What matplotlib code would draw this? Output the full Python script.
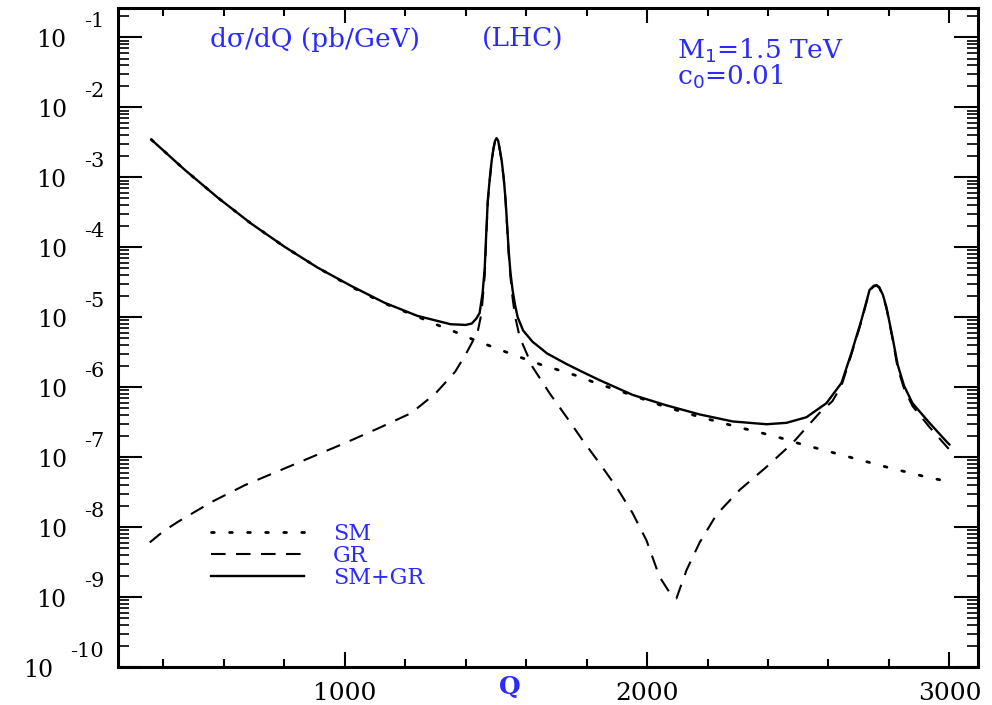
import matplotlib
matplotlib.use("Agg")
import matplotlib.pyplot as plt
import matplotlib.transforms as mtransforms
from matplotlib.ticker import LogLocator, MultipleLocator, NullFormatter
from matplotlib.lines import Line2D

# values: Q in GeV, log10(dsigma/dQ) in pb/GeV
q_sm = [360, 470, 580, 690, 800, 910, 1020, 1130, 1240, 1300, 1365, 1420, 1480, 1535,
        1592, 1650, 1711, 1770, 1830, 1900, 1960, 2060, 2170, 2300, 2365, 2430, 2490,
        2550, 2610, 2670, 2730, 2790, 2855, 2920, 2985, 3000]
log_sm = [-2.46, -2.89, -3.29, -3.66, -3.99, -4.29, -4.56, -4.80, -4.99, -5.10, -5.21,
          -5.31, -5.41, -5.50, -5.59, -5.68, -5.76, -5.84, -5.94, -6.04, -6.13, -6.28,
          -6.42, -6.57, -6.64, -6.71, -6.79, -6.86, -6.93, -7.00, -7.07, -7.14, -7.21,
          -7.28, -7.34, -7.36]

q_gr = [355, 400, 450, 560, 670, 780, 890, 1000, 1110, 1220, 1300, 1365, 1400, 1420,
        1440, 1452, 1463, 1468, 1473, 1480, 1486, 1492, 1497, 1502, 1507, 1512, 1519,
        1526, 1532, 1537, 1542, 1548, 1555, 1563, 1579, 1621, 1678, 1734, 1787, 1843,
        1899, 1952, 1998, 2041, 2075, 2097, 2131, 2174, 2230, 2306, 2395, 2481, 2570,
        2613, 2643, 2676, 2709, 2736, 2750, 2759, 2768, 2780, 2792, 2812, 2829, 2850,
        2878, 2934, 2993, 3000]
log_gr = [-8.22, -8.06, -7.92, -7.64, -7.40, -7.20, -7.00, -6.80, -6.59, -6.37, -6.09,
          -5.78, -5.53, -5.37, -5.20, -4.95, -4.40, -3.85, -3.36, -3.02, -2.77, -2.59,
          -2.49, -2.45, -2.48, -2.59, -2.77, -3.03, -3.35, -3.71, -4.08, -4.42, -4.72,
          -4.98, -5.29, -5.71, -6.09, -6.43, -6.76, -7.09, -7.43, -7.80, -8.19, -8.71,
          -8.94, -9.02, -8.61, -8.22, -7.82, -7.47, -7.14, -6.80, -6.37, -6.20, -5.98,
          -5.53, -5.06, -4.62, -4.56, -4.55, -4.58, -4.69, -4.88, -5.31, -5.73, -6.02,
          -6.27, -6.57, -6.86, -6.89]

q_tot = [360, 470, 580, 690, 800, 910, 1020, 1130, 1240, 1350, 1400, 1420, 1435, 1446,
         1456, 1463, 1468, 1473, 1480, 1486, 1492, 1497, 1502, 1507, 1512, 1519, 1526,
         1532, 1537, 1542, 1548, 1555, 1563, 1572, 1590, 1621, 1670, 1734, 1790, 1843,
         1952, 2064, 2174, 2283, 2395, 2461, 2527, 2593, 2643, 2676, 2709, 2736, 2750,
         2759, 2768, 2780, 2792, 2812, 2829, 2850, 2878, 2934, 2993, 3000]
log_tot = [-2.46, -2.89, -3.29, -3.66, -3.99, -4.29, -4.55, -4.79, -4.98, -5.10, -5.11,
           -5.09, -5.02, -4.94, -4.65, -4.29, -3.80, -3.33, -3.00, -2.76, -2.58, -2.48,
           -2.44, -2.47, -2.58, -2.76, -3.02, -3.33, -3.68, -4.04, -4.36, -4.61, -4.82,
           -5.00, -5.19, -5.35, -5.52, -5.67, -5.79, -5.90, -6.11, -6.26, -6.39, -6.49,
           -6.53, -6.51, -6.43, -6.23, -5.94, -5.51, -5.04, -4.61, -4.55, -4.54, -4.57,
           -4.68, -4.86, -5.29, -5.68, -5.98, -6.23, -6.51, -6.79, -6.82]

decades = [-1, -2, -3, -4, -5, -6, -7, -8, -9, -10]
x_ticks = [1000, 2000, 3000]
labels = ["SM", "GR", "SM+GR"]

serif = "DejaVu Serif"
blue = "#2a2aff"
plt.rcParams["font.family"] = serif

fig = plt.figure(figsize=(9.92, 7.05), dpi=100)
ax = fig.add_axes([0.119, 0.054, 0.867, 0.935])

sm_style = (0, (1, 5.5))
gr_style = (0, (7, 5))

ax.plot(q_sm, [10.0 ** v for v in log_sm], color="black", lw=2.0, ls=sm_style,
        dash_capstyle="round")
ax.plot(q_gr, [10.0 ** v for v in log_gr], color="black", lw=1.5, ls=gr_style)
ax.plot(q_tot, [10.0 ** v for v in log_tot], color="black", lw=1.7)

ax.set_yscale("log")
ax.set_xlim(250, 3095)
ax.set_ylim(1e-10, 10 ** -0.575)

ax.set_xticks(x_ticks)
ax.set_xticklabels([str(v) for v in x_ticks], fontsize=18)
ax.xaxis.set_minor_locator(MultipleLocator(200))
ax.yaxis.set_major_locator(LogLocator(base=10, numticks=20))
ax.yaxis.set_minor_locator(LogLocator(base=10, subs=range(2, 10), numticks=20))
ax.yaxis.set_major_formatter(NullFormatter())
ax.yaxis.set_minor_formatter(NullFormatter())

ax.tick_params(axis="x", which="major", direction="in", length=11, width=1.5,
               top=True, pad=11)
ax.tick_params(axis="x", which="minor", direction="in", length=5.5, width=1.5, top=True)
ax.tick_params(axis="y", which="major", direction="in", length=17, width=1.5, right=True)
ax.tick_params(axis="y", which="minor", direction="in", length=8, width=1.2, right=True)
for sp in ax.spines.values():
    sp.set_linewidth(2.2)

# y labels drawn as "10" with a raised exponent, like the original
trans = mtransforms.blended_transform_factory(ax.transAxes, ax.transData)
for e in decades:
    t_exp = ax.annotate(str(e), xy=(0, 10.0 ** e), xycoords=trans,
                        xytext=(-14, 10), textcoords="offset pixels",
                        ha="right", va="baseline", fontsize=15, annotation_clip=False)
    ax.annotate("10", xy=(0, 0), xycoords=t_exp, xytext=(-17, -16),
                textcoords="offset pixels", ha="right", va="baseline",
                fontsize=17, annotation_clip=False)

ax.text(0.456, -0.031, "Q", transform=ax.transAxes, color=blue, fontsize=18,
        ha="center", va="center", fontweight="bold")

ax.text(0.107, 0.941, "d\u03c3/dQ (pb/GeV)", transform=ax.transAxes, color=blue,
        fontsize=19, ha="left", va="baseline")
ax.text(0.423, 0.941, "(LHC)", transform=ax.transAxes, color=blue,
        fontsize=19, ha="left", va="baseline")
ax.text(0.65, 0.923, r"M$_1$=1.5 TeV", transform=ax.transAxes, color=blue,
        fontsize=19, ha="left", va="baseline")
ax.text(0.65, 0.884, r"c$_0$=0.01", transform=ax.transAxes, color=blue,
        fontsize=19, ha="left", va="baseline")

handles = [Line2D([], [], color="black", lw=2.0, ls=sm_style, dash_capstyle="round"),
           Line2D([], [], color="black", lw=1.5, ls=gr_style),
           Line2D([], [], color="black", lw=1.7)]
leg = ax.legend(handles, labels, loc="upper left", bbox_to_anchor=(0.095, 0.235),
                frameon=False, fontsize=16, handlelength=4.2, handletextpad=1.3,
                labelspacing=0.0, borderpad=0)
for t in leg.get_texts():
    t.set_color(blue)

fig.savefig("out.png", dpi=100)
